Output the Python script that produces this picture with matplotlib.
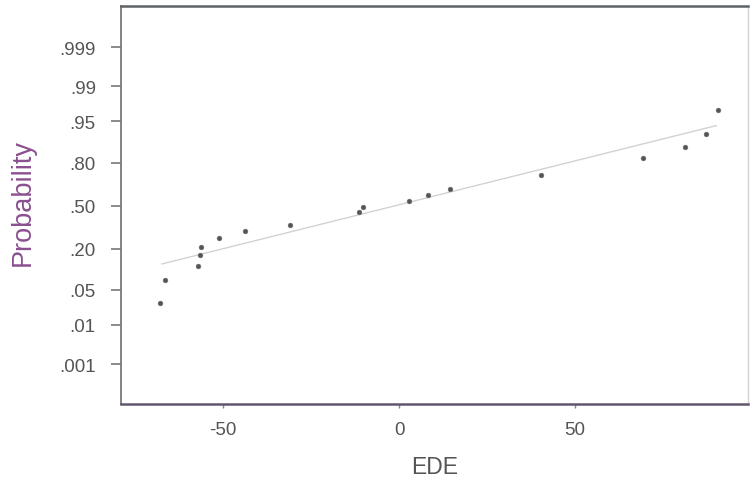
import numpy as np
import matplotlib
matplotlib.use("Agg")
import matplotlib.pyplot as plt
from statistics import NormalDist

# ---- data ----
ede = [-68.0, -66.4, -57.1, -56.7, -56.3, -51.1, -43.9, -31.1, -11.5, -10.3,
       2.8, 8.1, 14.5, 40.3, 69.4, 81.4, 87.3, 90.7]
prob = [0.0292, 0.0744, 0.1208, 0.1695, 0.2119, 0.2663, 0.3085, 0.3531, 0.4487,
        0.4900, 0.5327, 0.5851, 0.6278, 0.7234, 0.8225, 0.8729, 0.9200, 0.9695]
fit_x = [-67.4, 90.1]
fit_p = [0.1276, 0.9407]
prob_ticks = [0.001, 0.01, 0.05, 0.20, 0.50, 0.80, 0.95, 0.99, 0.999]
prob_labels = [".001", ".01", ".05", ".20", ".50", ".80", ".95", ".99", ".999"]
x_ticks = [-50, 0, 50]

nd = NormalDist()
_ppf = np.vectorize(lambda p: nd.inv_cdf(min(max(float(p), 1e-12), 1 - 1e-12)),
                    otypes=[float])
_cdf = np.vectorize(lambda z: nd.cdf(float(z)), otypes=[float])

def forward(p):
    return _ppf(np.asarray(p, dtype=float))

def inverse(z):
    return _cdf(np.asarray(z, dtype=float))

plt.rcParams['font.family'] = ['Liberation Sans', 'DejaVu Sans']

fig = plt.figure(figsize=(7.5, 4.85), dpi=100)
ax = fig.add_axes([0.161, 0.165, 0.836, 0.820])
ax.set_yscale('function', functions=(forward, inverse))

ax.plot(fit_x, fit_p, color='#d2d2d2', lw=1.0, zorder=2)
ax.plot(ede, prob, 'o', color='#555555', ms=3.4, mec='#6a6a6a', mew=0.4, zorder=3)

ax.set_xlim(-79.1, 99.1)
ax.set_ylim(nd.cdf(-3.87), nd.cdf(3.89))

ax.set_yticks(prob_ticks)
ax.set_yticklabels(prob_labels)
ax.yaxis.set_minor_locator(matplotlib.ticker.NullLocator())
ax.set_xticks(x_ticks)
ax.set_xticklabels([str(v) for v in x_ticks])

ax.tick_params(axis='y', direction='out', length=7, width=1.2, color='#777777',
               pad=11, labelsize=13.5, labelcolor='#555555')
ax.tick_params(axis='x', direction='out', length=3, width=1.0, color='#888888',
               pad=9, labelsize=13.5, labelcolor='#555555')

ax.set_xlabel('EDE', fontsize=16.5, color='#555555', va='center')
ax.set_ylabel('Probability', fontsize=19.5, color='#8a4f8f', va='center')
ax.xaxis.set_label_coords(0.5, -0.156)
ax.yaxis.set_label_coords(-0.156, 0.51)

for side, c, w in [('left', '#7a7a7a', 1.3), ('bottom', '#62566e', 1.8),
                   ('top', '#5d6366', 1.8), ('right', '#d0d6d6', 1.0)]:
    ax.spines[side].set_color(c)
    ax.spines[side].set_linewidth(w)

fig.savefig('out.png', dpi=100)
